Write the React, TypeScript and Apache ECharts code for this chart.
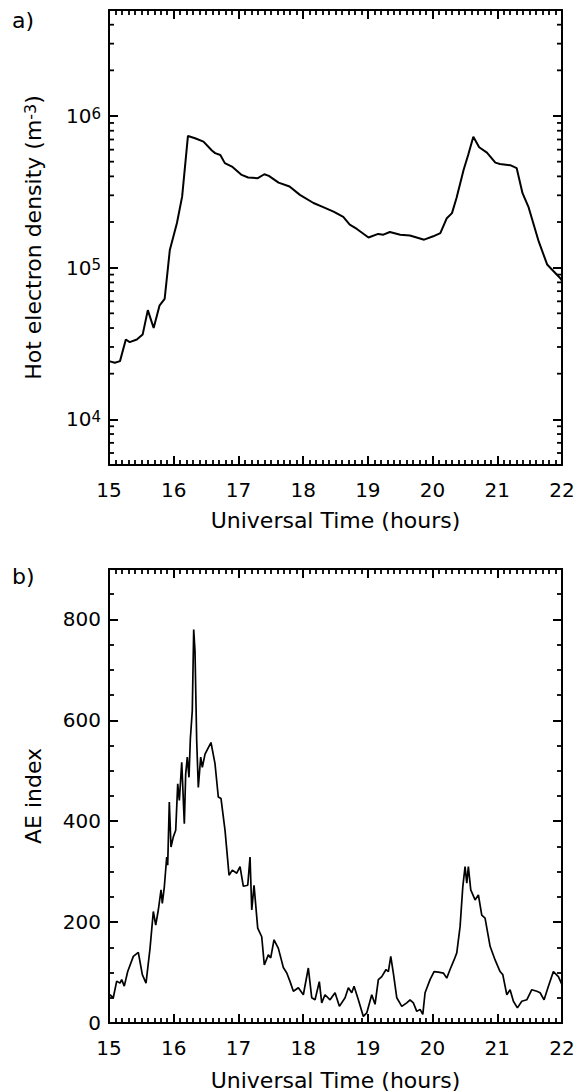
import React, { useEffect, useRef } from 'react';
import * as echarts from 'echarts';

// ---------- Panel a: hot electron density (log scale) ----------
const densityTime = [
  15.0, 15.09, 15.17, 15.26, 15.32, 15.43, 15.52, 15.6, 15.69, 15.78, 15.86, 15.94,
  16.05, 16.13, 16.22, 16.33, 16.46, 16.59, 16.64, 16.72, 16.79, 16.9, 17.05, 17.15,
  17.3, 17.4, 17.47, 17.62, 17.79, 17.95, 18.16, 18.31, 18.47, 18.62, 18.72, 18.83,
  19.01, 19.16, 19.24, 19.34, 19.5, 19.65, 19.87, 20.01, 20.12, 20.22, 20.3, 20.37,
  20.48, 20.55, 20.63, 20.72, 20.84, 20.97, 21.04, 21.2, 21.3, 21.39, 21.48, 21.64,
  21.77, 21.87, 21.97, 22.0,
];
const densityValues = [
  2.42e4, 2.36e4, 2.42e4, 3.36e4, 3.23e4, 3.36e4, 3.62e4, 5.25e4, 4.0e4, 5.62e4, 6.22e4, 1.31e5,
  1.97e5, 2.94e5, 7.39e5, 7.13e5, 6.78e5, 5.92e5, 5.69e5, 5.53e5, 4.89e5, 4.64e5, 4.09e5, 3.93e5,
  3.89e5, 4.13e5, 4.03e5, 3.64e5, 3.43e5, 3.02e5, 2.67e5, 2.51e5, 2.34e5, 2.16e5, 1.92e5, 1.8e5,
  1.58e5, 1.67e5, 1.65e5, 1.72e5, 1.65e5, 1.63e5, 1.53e5, 1.61e5, 1.69e5, 2.12e5, 2.29e5, 2.88e5,
  4.42e5, 5.53e5, 7.31e5, 6.22e5, 5.74e5, 4.93e5, 4.83e5, 4.74e5, 4.53e5, 3.1e5, 2.53e5, 1.49e5,
  1.05e5, 9.47e4, 8.55e4, 8.2e4,
];
const densityMinorTicks = [
  6e3, 7e3, 8e3, 9e3,
  2e4, 3e4, 4e4, 5e4, 6e4, 7e4, 8e4, 9e4,
  2e5, 3e5, 4e5, 5e5, 6e5, 7e5, 8e5, 9e5,
  2e6, 3e6, 4e6,
];

// ---------- Panel b: AE index ----------
const aeTime = [
  15.015, 15.066, 15.119, 15.17, 15.196, 15.236, 15.289, 15.376, 15.453, 15.515, 15.572, 15.634,
  15.685, 15.722, 15.762, 15.804, 15.824, 15.855, 15.892, 15.907, 15.932, 15.958, 15.994, 16.031,
  16.062, 16.087, 16.124, 16.164, 16.185, 16.21, 16.236, 16.257, 16.287, 16.309, 16.329, 16.355,
  16.38, 16.417, 16.442, 16.484, 16.535, 16.576, 16.638, 16.689, 16.731, 16.793, 16.855, 16.906,
  16.974, 17.025, 17.076, 17.144, 17.179, 17.206, 17.241, 17.298, 17.36, 17.4, 17.462, 17.499,
  17.55, 17.617, 17.694, 17.747, 17.798, 17.849, 17.926, 18.003, 18.08, 18.133, 18.184, 18.25,
  18.287, 18.338, 18.416, 18.493, 18.56, 18.648, 18.699, 18.751, 18.787, 18.853, 18.93, 18.983,
  19.06, 19.111, 19.162, 19.215, 19.281, 19.317, 19.354, 19.394, 19.447, 19.524, 19.601, 19.652,
  19.703, 19.756, 19.807, 19.849, 19.884, 19.961, 20.023, 20.09, 20.167, 20.219, 20.27, 20.332,
  20.374, 20.425, 20.467, 20.502, 20.529, 20.553, 20.59, 20.657, 20.708, 20.76, 20.811, 20.889,
  20.966, 21.043, 21.085, 21.147, 21.198, 21.249, 21.311, 21.379, 21.456, 21.533, 21.611, 21.662,
  21.723, 21.79, 21.867, 21.944, 22.0,
];
const aeValues = [
  56, 50, 83, 79, 86, 73, 102, 132, 140, 96, 79, 148,
  221, 194, 224, 264, 237, 270, 329, 313, 438, 349, 369, 382,
  474, 441, 517, 395, 494, 527, 487, 563, 619, 780, 737, 560,
  467, 527, 507, 533, 546, 556, 514, 448, 445, 382, 293, 303,
  297, 310, 271, 273, 329, 224, 273, 188, 171, 115, 135, 129,
  165, 148, 110, 99, 82, 63, 70, 56, 109, 50, 46, 82,
  40, 56, 46, 60, 33, 50, 70, 60, 73, 46, 13, 20,
  56, 37, 86, 92, 106, 102, 132, 99, 50, 33, 40, 46,
  40, 23, 27, 17, 60, 86, 102, 101, 99, 89, 106, 125,
  139, 191, 270, 310, 277, 310, 264, 244, 254, 214, 208, 152,
  125, 102, 96, 56, 66, 43, 30, 43, 46, 66, 63, 60,
  46, 73, 102, 92, 76,
];
const aeTickLabels = ['0', '200', '400', '600', '800'];

const FONT = 'DejaVu Sans';
const BLACK = '#000';

export default function App() {
  const ref = useRef<HTMLDivElement>(null);

  useEffect(() => {
    if (!ref.current) return;
    const chart = echarts.init(ref.current, undefined, { renderer: 'svg' });

    const axisLine = { show: true, onZero: false, lineStyle: { color: BLACK, width: 2 } };
    const majorTick = { show: true, inside: true, length: 9, lineStyle: { color: BLACK, width: 2 } };
    const minorTickX = { show: true, splitNumber: 10, length: 5, lineStyle: { color: BLACK, width: 1.8 } };

    const makeX = (gridIndex: number, nameGap: number) => {
      const base: any = {
        type: 'value', gridIndex, min: 15, max: 22, interval: 1,
        axisLine, axisTick: majorTick, minorTick: minorTickX, splitLine: { show: false },
      };
      return [
        {
          ...base, position: 'bottom',
          axisLabel: { show: true, margin: 15, fontSize: 20, fontFamily: FONT, color: BLACK },
          name: 'Universal Time (hours)', nameLocation: 'middle', nameGap,
          nameTextStyle: { fontSize: 22, fontFamily: FONT, color: BLACK },
        },
        { ...base, position: 'top', axisLabel: { show: false } },
      ];
    };

    const logBase: any = {
      type: 'log', logBase: 10, gridIndex: 0, min: 5000, max: 5000000,
      axisLine, axisTick: majorTick, splitLine: { show: false },
    };

    const aeBase: any = {
      type: 'value', gridIndex: 1, min: 0, max: 900, axisLine, splitLine: { show: false },
    };
    const aeMinorTick = { show: true, inside: true, length: 5, lineStyle: { color: BLACK, width: 1.8 } };

    const option: any = {
      animation: false,
      backgroundColor: '#fff',
      grid: [
        { left: 109, top: 10, width: 453, height: 455 },
        { left: 109, top: 569, width: 453, height: 454 },
      ],
      graphic: [
        { type: 'text', left: 12, top: 9, style: { text: 'a)', fontSize: 22, fontFamily: FONT, fill: BLACK } },
        { type: 'text', left: 12, top: 565, style: { text: 'b)', fontSize: 22, fontFamily: FONT, fill: BLACK } },
      ],
      xAxis: [...makeX(0, 44), ...makeX(1, 46)],
      yAxis: [
        {
          ...logBase, position: 'left',
          axisLabel: {
            show: true, margin: 8, fontFamily: FONT, color: BLACK,
            formatter: (v: number) => {
              const e = Math.log10(v);
              const n = Math.round(e);
              if (Math.abs(e - n) > 1e-6) return '';
              return `{b|10}{s|${n}}`;
            },
            rich: {
              b: { fontSize: 20, fontFamily: FONT, color: BLACK, lineHeight: 20, padding: [5, 0, 5, 0], verticalAlign: 'middle' },
              s: { fontSize: 15, fontFamily: FONT, color: BLACK, lineHeight: 15, verticalAlign: 'top' },
            },
          },
          name: '{n|Hot electron density (m}{s|-3}{n|)}',
          nameLocation: 'middle', nameGap: 65, nameRotate: 90,
          nameTextStyle: {
            fontSize: 22, fontFamily: FONT, color: BLACK,
            rich: {
              n: { fontSize: 22, fontFamily: FONT, color: BLACK, lineHeight: 22, padding: [5, 0, 5, 0] },
              s: { fontSize: 16, fontFamily: FONT, color: BLACK, lineHeight: 16, verticalAlign: 'top' },
            },
          },
        },
        { ...logBase, position: 'right', axisLabel: { show: false } },
        {
          ...aeBase, position: 'left', interval: 200, axisTick: majorTick,
          axisLabel: {
            show: true, margin: 8, fontSize: 20, fontFamily: FONT, color: BLACK,
            formatter: (v: number) => (aeTickLabels.includes(String(v)) ? String(v) : ''),
          },
          name: 'AE index', nameLocation: 'middle', nameGap: 65, nameRotate: 90,
          nameTextStyle: { fontSize: 22, fontFamily: FONT, color: BLACK },
        },
        { ...aeBase, position: 'left', interval: 50, axisTick: aeMinorTick, axisLabel: { show: false } },
        { ...aeBase, position: 'right', interval: 200, axisTick: majorTick, axisLabel: { show: false } },
        { ...aeBase, position: 'right', interval: 50, axisTick: aeMinorTick, axisLabel: { show: false } },
      ],
      series: [
        {
          type: 'custom', coordinateSystem: 'cartesian2d', xAxisIndex: 0, yAxisIndex: 0,
          silent: true, clip: false,
          data: densityMinorTicks.map((v) => [15, v]),
          renderItem: (params: any, api: any) => {
            const v = api.value(1);
            const p1 = api.coord([15, v]);
            const p2 = api.coord([22, v]);
            const style = { stroke: BLACK, lineWidth: 1.8 };
            return {
              type: 'group',
              children: [
                { type: 'line', shape: { x1: p1[0], y1: p1[1], x2: p1[0] + 5, y2: p1[1] }, style },
                { type: 'line', shape: { x1: p2[0] - 5, y1: p2[1], x2: p2[0], y2: p2[1] }, style },
              ],
            };
          },
        },
        {
          type: 'line', xAxisIndex: 0, yAxisIndex: 0, symbol: 'none', silent: true,
          data: densityTime.map((t, i) => [t, densityValues[i]]),
          lineStyle: { color: BLACK, width: 2 },
        },
        {
          type: 'line', xAxisIndex: 2, yAxisIndex: 2, symbol: 'none', silent: true,
          data: aeTime.map((t, i) => [t, aeValues[i]]),
          lineStyle: { color: BLACK, width: 1.7 },
        },
      ],
    };

    chart.setOption(option);
    return () => chart.dispose();
  }, []);

  return (
    <div
      ref={ref}
      style={{ position: 'absolute', left: 0, top: 0, width: 578, height: 1092, background: '#fff' }}
    />
  );
}
